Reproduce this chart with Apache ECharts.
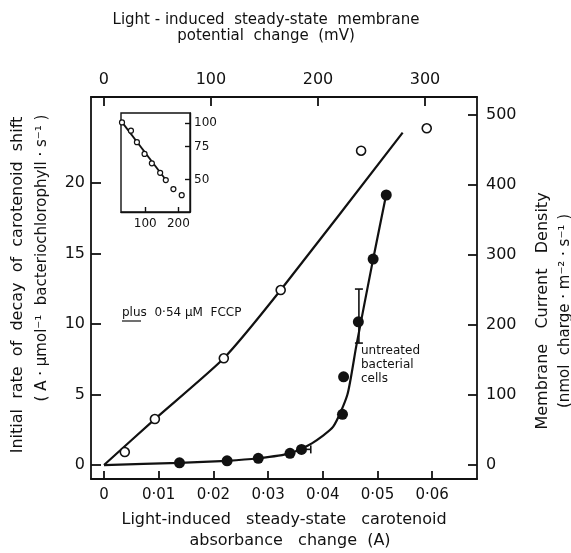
<!DOCTYPE html>
<html>
<head>
<meta charset="utf-8">
<script src="https://cdn.jsdelivr.net/npm/echarts@6/dist/echarts.min.js"></script>
<style>
html, body { margin: 0; padding: 0; background: #fff; }
#chart { width: 571px; height: 553px; }
</style>
</head>
<body>
<div id="chart"></div>
<script>
// tick values
var absorbanceTicks = [0, 0.01, 0.02, 0.03, 0.04, 0.05, 0.06];
var potentialTicks = [0, 100, 200, 300];
var rateTicks = [0, 5, 10, 15, 20];
var currentTicks = [0, 100, 200, 300, 400, 500];
var insetXTicks = [100, 200];
var insetYTicks = [50, 75, 100];

// plus FCCP (open circles) and the line drawn through them
var fccpX = [0.0038, 0.0093, 0.0219, 0.0323, 0.0470, 0.0590];
var fccpY = [0.92, 3.26, 7.57, 12.41, 22.29, 23.88];
var fccpFitX = [0, 0.0093, 0.0219, 0.0323, 0.0546];
var fccpFitY = [0, 3.26, 7.57, 12.41, 23.57];

// untreated cells (filled circles) and their curve
var cellsX = [0.0138, 0.0225, 0.0282, 0.0340, 0.0361, 0.0436, 0.0438, 0.0465, 0.0492, 0.0516];
var cellsY = [0.16, 0.30, 0.48, 0.83, 1.11, 3.60, 6.26, 10.16, 14.61, 19.15];
var cellsFitX = [0, 0.0138, 0.0225, 0.0282, 0.0340, 0.0380, 0.0419, 0.0445, 0.0461, 0.0492, 0.0516];
var cellsFitY = [0, 0.16, 0.30, 0.48, 0.83, 1.54, 2.72, 5.0, 8.4, 14.6, 19.2];

// error bars: [x, low, high] and [y, from, to]
var errorBarV = [0.0466, 8.65, 12.48];
var errorBarH = [1.11, 0.0361, 0.0378];

// inset
var insetX = [30, 57, 75, 98, 120, 145, 162, 185, 210];
var insetY = [100.7, 90.9, 79.0, 68.4, 60.9, 54.2, 49.6, 44.4, 41.2];
var insetFitX = [30, 163];
var insetFitY = [101, 49.5];

function pairs(xs, ys) {
    return xs.map(function (x, i) { return [x, ys[i]]; });
}

var ink = '#111';
var font = 'DejaVu Sans';

function frameAxis(extra) {
    var axis = {
        type: 'value',
        axisLine: { show: true, onZero: false, lineStyle: { color: ink, width: 1.8 } },
        axisTick: { show: true, inside: true, length: 8, lineStyle: { color: ink, width: 1.8 } },
        axisLabel: { color: ink, fontFamily: font, fontSize: 16 },
        splitLine: { show: false }
    };
    Object.keys(extra).forEach(function (k) {
        if (typeof extra[k] === 'object' && axis[k] && !Array.isArray(extra[k])) {
            axis[k] = Object.assign({}, axis[k], extra[k]);
        } else {
            axis[k] = extra[k];
        }
    });
    return axis;
}

function label(x, y, text, size, rotate) {
    return {
        type: 'text', x: x, y: y, rotation: rotate ? Math.PI / 2 : 0,
        style: { text: text, fill: ink, font: size + 'px ' + font, align: 'center', verticalAlign: 'middle' }
    };
}

var chart = echarts.init(document.getElementById('chart'));

chart.setOption({
    animation: false,
    backgroundColor: '#fff',
    grid: [
        { left: 91, right: 94, top: 97, bottom: 74 },
        { left: 121, top: 113, width: 69, height: 99, show: true, borderColor: ink, borderWidth: 1.4, backgroundColor: 'transparent' }
    ],
    xAxis: [
        frameAxis({
            gridIndex: 0, position: 'bottom', min: -0.00238, max: 0.06819,
            axisTick: { customValues: absorbanceTicks },
            axisLabel: {
                customValues: absorbanceTicks, fontSize: 15, margin: 9,
                formatter: function (v) { return v === 0 ? '0' : v.toFixed(2).replace('.', '·'); }
            }
        }),
        frameAxis({
            gridIndex: 0, position: 'top', min: -12.1, max: 348.6,
            axisTick: { customValues: potentialTicks, length: 9 },
            axisLabel: { customValues: potentialTicks, margin: 9 }
        }),
        frameAxis({
            gridIndex: 1, position: 'bottom', min: 27, max: 235,
            axisLine: { lineStyle: { color: ink, width: 1.4 } },
            axisTick: { customValues: insetXTicks, length: 5, lineStyle: { color: ink, width: 1.4 } },
            axisLabel: { customValues: insetXTicks, fontSize: 12, margin: 6 }
        })
    ],
    yAxis: [
        frameAxis({
            gridIndex: 0, position: 'left', min: -0.99, max: 26.1,
            axisTick: { customValues: rateTicks, length: 10 },
            axisLabel: { customValues: rateTicks, margin: 6 }
        }),
        frameAxis({
            gridIndex: 0, position: 'right', min: -20, max: 525.7,
            axisTick: { customValues: currentTicks, length: 9 },
            axisLabel: { customValues: currentTicks, margin: 9 }
        }),
        frameAxis({
            gridIndex: 1, type: 'log', logBase: 10, position: 'right', min: 33.5, max: 113,
            axisLine: { lineStyle: { color: ink, width: 1.4 } },
            axisTick: { customValues: insetYTicks, length: 5, lineStyle: { color: ink, width: 1.4 } },
            axisLabel: { customValues: insetYTicks, fontSize: 12, margin: 4 }
        })
    ],
    graphic: [
        // axis titles
        label(266, 20, 'Light - induced  steady-state  membrane', 15),
        label(266, 36, 'potential  change  (mV)', 15),
        label(284, 520, 'Light-induced   steady-state   carotenoid', 16),
        label(290, 541, 'absorbance   change  (A)', 16),
        label(18, 285, 'Initial  rate  of  decay  of  carotenoid  shift', 16, true),
        label(42, 258, '( A · μmol⁻¹  bacteriochlorophyll · s⁻¹ )', 15, true),
        label(543, 311, 'Membrane   Current   Density', 16, true),
        label(565, 311, '(nmol  charge · m⁻² · s⁻¹ )', 15, true),
        // annotations
        { type: 'text', x: 122, y: 313, style: { text: 'plus  0·54 μM  FCCP', fill: ink, font: '12px ' + font, align: 'left', verticalAlign: 'middle' } },
        { type: 'line', shape: { x1: 122, y1: 321, x2: 141, y2: 321 }, style: { stroke: ink, lineWidth: 1.2 } },
        { type: 'text', x: 361, y: 365, style: { text: 'untreated\nbacterial\ncells', fill: ink, font: '12px ' + font, lineHeight: 14, align: 'left', verticalAlign: 'middle' } }
    ],
    series: [
        {
            type: 'line', xAxisIndex: 0, yAxisIndex: 0, data: pairs(fccpFitX, fccpFitY),
            showSymbol: false, smooth: 0.2, lineStyle: { color: ink, width: 2.2 }, z: 2
        },
        {
            type: 'line', xAxisIndex: 0, yAxisIndex: 0, data: pairs(cellsFitX, cellsFitY),
            showSymbol: false, smooth: 0.2, lineStyle: { color: ink, width: 2.2 }, z: 2
        },
        {
            type: 'custom', xAxisIndex: 0, yAxisIndex: 0, z: 3,
            data: [errorBarV],
            renderItem: function (params, api) {
                var lo = api.coord([api.value(0), api.value(1)]);
                var hi = api.coord([api.value(0), api.value(2)]);
                var s = { stroke: ink, lineWidth: 1.6 };
                return {
                    type: 'group', children: [
                        { type: 'line', shape: { x1: lo[0], y1: lo[1], x2: hi[0], y2: hi[1] }, style: s },
                        { type: 'line', shape: { x1: lo[0] - 4, y1: lo[1], x2: lo[0] + 4, y2: lo[1] }, style: s },
                        { type: 'line', shape: { x1: hi[0] - 4, y1: hi[1], x2: hi[0] + 4, y2: hi[1] }, style: s }
                    ]
                };
            }
        },
        {
            type: 'custom', xAxisIndex: 0, yAxisIndex: 0, z: 3,
            data: [errorBarH],
            renderItem: function (params, api) {
                var a = api.coord([api.value(1), api.value(0)]);
                var b = api.coord([api.value(2), api.value(0)]);
                var s = { stroke: ink, lineWidth: 1.6 };
                return {
                    type: 'group', children: [
                        { type: 'line', shape: { x1: a[0], y1: a[1], x2: b[0], y2: b[1] }, style: s },
                        { type: 'line', shape: { x1: b[0], y1: b[1] - 4, x2: b[0], y2: b[1] + 4 }, style: s }
                    ]
                };
            }
        },
        {
            type: 'scatter', xAxisIndex: 0, yAxisIndex: 0, data: pairs(fccpX, fccpY),
            symbol: 'circle', symbolSize: 9,
            itemStyle: { color: '#fff', borderColor: ink, borderWidth: 1.6, opacity: 1 }, z: 5
        },
        {
            type: 'scatter', xAxisIndex: 0, yAxisIndex: 0, data: pairs(cellsX, cellsY),
            symbol: 'circle', symbolSize: 11,
            itemStyle: { color: ink, opacity: 1 }, z: 5
        },
        {
            type: 'line', xAxisIndex: 2, yAxisIndex: 2, data: pairs(insetFitX, insetFitY),
            showSymbol: false, lineStyle: { color: ink, width: 1.8 }, z: 4
        },
        {
            type: 'scatter', xAxisIndex: 2, yAxisIndex: 2, data: pairs(insetX, insetY),
            symbol: 'circle', symbolSize: 5,
            itemStyle: { color: '#fff', borderColor: ink, borderWidth: 1.2, opacity: 1 }, z: 5
        }
    ]
});
</script>
</body>
</html>
